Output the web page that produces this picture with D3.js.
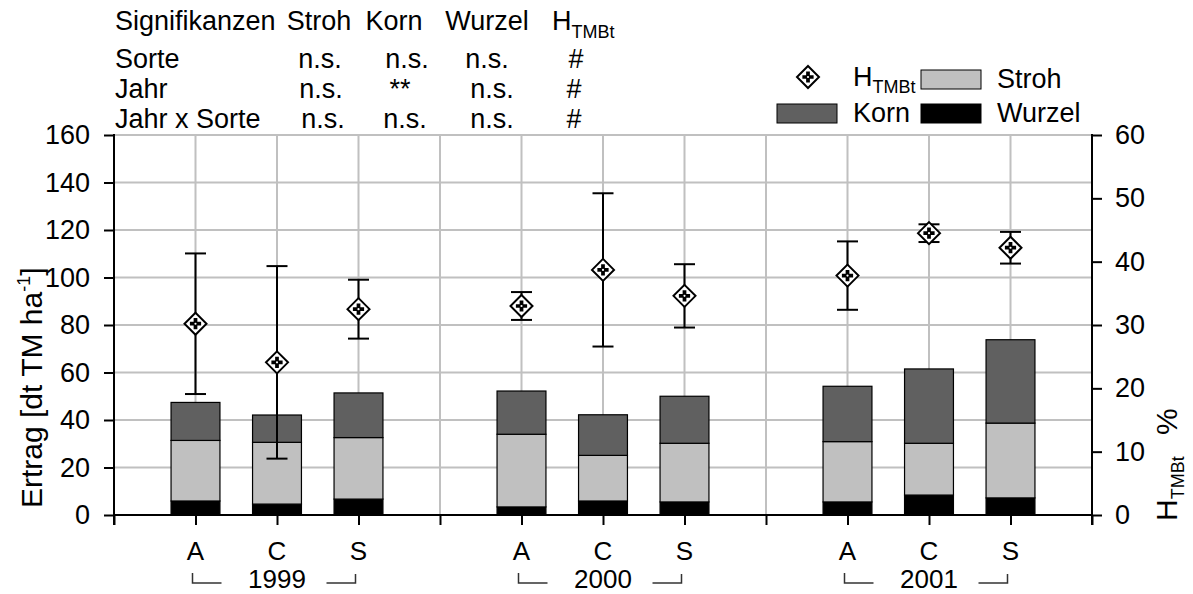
<!DOCTYPE html>
<html>
<head>
<meta charset="utf-8">
<script src="https://cdn.jsdelivr.net/npm/d3@7"></script>
<style>
  body { margin: 0; background: #fff; }
  svg { display: block; font-family: "Liberation Sans", Arial, sans-serif; }
</style>
</head>
<body>
<svg id="chart" width="1193" height="594"></svg>
<script>
// ---- data -------------------------------------------------------------
const years = ["1999", "2000", "2001"];
const varieties = ["A", "C", "S"];
// yield components [dt TM ha-1], order: 1999 A,C,S / 2000 A,C,S / 2001 A,C,S
const wurzel = [5.9, 4.6, 6.7, 3.4, 5.9, 5.5, 5.5, 8.4, 7.2];
const stroh  = [25.5, 26.0, 25.9, 30.6, 19.2, 24.7, 25.4, 21.8, 31.5];
const korn   = [16.0, 11.5, 18.8, 18.2, 17.1, 19.8, 23.3, 31.3, 35.1];
// harvest index H_TMBt [%] with error
const hMean = [30.2, 24.1, 32.5, 33.0, 38.7, 34.6, 37.8, 44.5, 42.2];
const hErr  = [11.1, 15.2, 4.65, 2.2, 12.1, 5.0, 5.4, 1.4, 2.5];

const leftTicks  = [0, 20, 40, 60, 80, 100, 120, 140, 160];
const rightTicks = [0, 10, 20, 30, 40, 50, 60];

// significance table
const sigHeader = ["Signifikanzen", "Stroh", "Korn", "Wurzel"];
const sigRowLabels = ["Sorte", "Jahr", "Jahr x Sorte"];
const sigValues = [
  ["n.s.", "n.s.", "n.s.", "#"],
  ["n.s.", "**",   "n.s.", "#"],
  ["n.s.", "n.s.", "n.s.", "#"]
];

// ---- layout -----------------------------------------------------------
const svg = d3.select("#chart");
const X0 = 114, X1 = 1092, Y0 = 515, Y1 = 135;
const x  = d3.scaleLinear().domain([0, 12]).range([X0, X1]);
const yL = d3.scaleLinear().domain([0, 160]).range([Y0, Y1]);
const yR = d3.scaleLinear().domain([0, 60]).range([Y0, Y1]);
const step = x(1) - x(0);
const barW = step * 0.6;

const keys = ["wurzel", "stroh", "korn"];
const fills = { wurzel: "#000000", stroh: "#c0c0c0", korn: "#606060" };

const records = years.flatMap((yr, g) => varieties.map((v, i) => {
  const k = g * 3 + i;
  return { year: yr, variety: v, pos: 1 + g * 4 + i,
           wurzel: wurzel[k], stroh: stroh[k], korn: korn[k],
           h: hMean[k], e: hErr[k] };
}));
const stacked = d3.stack().keys(keys)(records);

// ---- grid -------------------------------------------------------------
const grid = svg.append("g").attr("stroke", "#c0c0c0").attr("stroke-width", 2);
grid.selectAll("line.h").data(leftTicks.filter(t => t > 0)).join("line")
  .attr("x1", X0).attr("x2", X1)
  .attr("y1", d => yL(d)).attr("y2", d => yL(d));
grid.selectAll("line.v").data(d3.range(1, 12)).join("line")
  .attr("x1", d => x(d)).attr("x2", d => x(d))
  .attr("y1", Y1).attr("y2", Y0);

// ---- stacked bars -----------------------------------------------------
svg.append("g").selectAll("g").data(stacked).join("g")
  .attr("fill", d => fills[d.key])
  .selectAll("rect").data(d => d).join("rect")
  .attr("x", d => x(d.data.pos) - barW / 2)
  .attr("width", barW)
  .attr("y", d => yL(d[1]))
  .attr("height", d => yL(d[0]) - yL(d[1]))
  .attr("stroke", "#000").attr("stroke-width", 1.2);

// ---- axes -------------------------------------------------------------
const axisFont = 27;
const left = svg.append("g").attr("transform", `translate(${X0},0)`)
  .call(d3.axisLeft(yL).tickValues(leftTicks).tickSize(10).tickPadding(14).tickSizeOuter(0));
const right = svg.append("g").attr("transform", `translate(${X1},0)`)
  .call(d3.axisRight(yR).tickValues(rightTicks).tickSize(10).tickPadding(13).tickSizeOuter(0));
const bottom = svg.append("g").attr("transform", `translate(0,${Y0})`)
  .call(d3.axisBottom(x).tickValues(d3.range(0, 13)).tickSize(10).tickFormat("").tickSizeOuter(0));
[left, right, bottom].forEach(a => {
  a.select(".domain").remove();
  a.selectAll(".tick line").attr("stroke", "#000").attr("stroke-width", 2);
  a.selectAll(".tick text").attr("font-size", axisFont).attr("fill", "#000")
    .attr("font-family", "Liberation Sans, Arial, sans-serif");
});
svg.append("line").attr("x1", X0).attr("x2", X0).attr("y1", Y1 - 1).attr("y2", Y0 + 10)
  .attr("stroke", "#000").attr("stroke-width", 2);
svg.append("line").attr("x1", X1).attr("x2", X1).attr("y1", Y1 - 1).attr("y2", Y0 + 10)
  .attr("stroke", "#000").attr("stroke-width", 2);
svg.append("line").attr("x1", X0).attr("x2", X1).attr("y1", Y0).attr("y2", Y0)
  .attr("stroke", "#000").attr("stroke-width", 2);

// category and year labels with brackets
const catFont = 26;
svg.append("g").selectAll("text").data(records).join("text")
  .attr("x", d => x(d.pos)).attr("y", 560)
  .attr("text-anchor", "middle").attr("font-size", catFont)
  .text(d => d.variety);
const yearG = svg.append("g").selectAll("g").data(years).join("g");
yearG.append("text")
  .attr("x", (d, g) => x(2 + g * 4)).attr("y", 588)
  .attr("text-anchor", "middle").attr("font-size", catFont)
  .text(d => d);
yearG.append("path")
  .attr("fill", "none").attr("stroke", "#333").attr("stroke-width", 1.5)
  .attr("d", (d, g) => {
    const a = x(1 + g * 4) - 3, s = x(3 + g * 4) - 3;
    return `M${a},573V583H${a + 29}M${s - 29},583H${s}V574`;
  });

// ---- error bars and harvest index markers ---------------------------
const capW = 21;
const err = svg.append("g").attr("stroke", "#000").attr("stroke-width", 2);
err.selectAll("line.stem").data(records).join("line")
  .attr("x1", d => x(d.pos)).attr("x2", d => x(d.pos))
  .attr("y1", d => yR(d.h - d.e)).attr("y2", d => yR(d.h + d.e));
err.selectAll("line.top").data(records).join("line")
  .attr("x1", d => x(d.pos) - capW / 2).attr("x2", d => x(d.pos) + capW / 2)
  .attr("y1", d => yR(d.h + d.e)).attr("y2", d => yR(d.h + d.e));
err.selectAll("line.bot").data(records).join("line")
  .attr("x1", d => x(d.pos) - capW / 2).attr("x2", d => x(d.pos) + capW / 2)
  .attr("y1", d => yR(d.h - d.e)).attr("y2", d => yR(d.h - d.e));

function marker(sel) {
  sel.append("path").attr("d", "M0,-11L11,0L0,11L-11,0Z")
    .attr("fill", "#fff").attr("stroke", "#000").attr("stroke-width", 2);
  sel.append("path").attr("d", d3.symbol(d3.symbolCross, 70)()).attr("fill", "#000");
  sel.append("circle").attr("r", 1.1).attr("fill", "#fff");
}
svg.append("g").selectAll("g").data(records).join("g")
  .attr("transform", d => `translate(${x(d.pos)},${yR(d.h)})`)
  .call(marker);

// ---- axis titles ------------------------------------------------------
const lt = svg.append("text").attr("transform", "translate(42,508) rotate(-90)")
  .attr("font-size", 30);
lt.append("tspan").text("Ertrag [dt TM ha");
lt.append("tspan").attr("font-size", 18).attr("dy", -12).text("-1");
lt.append("tspan").attr("dy", 12).text("]");

const rt = svg.append("text").attr("transform", "translate(1177,521) rotate(-90)")
  .attr("font-size", 30);
rt.append("tspan").text("H");
rt.append("tspan").attr("font-size", 18).attr("dy", 7).text("TMBt");
rt.append("tspan").attr("x", 86).attr("dy", -7).text("%");

// ---- legend -----------------------------------------------------------
const fs = 27;
svg.append("g").attr("transform", "translate(808,77)").call(marker);
const lh = svg.append("text").attr("x", 853).attr("y", 86).attr("font-size", fs);
lh.append("tspan").text("H");
lh.append("tspan").attr("font-size", 18).attr("dy", 7).text("TMBt");
const legendItems = [
  { key: "stroh",  label: "Stroh",  sx: 921, tx: 997, y: 70 },
  { key: "korn",   label: "Korn",   sx: 777, tx: 853, y: 104 },
  { key: "wurzel", label: "Wurzel", sx: 921, tx: 997, y: 104 }
];
const lg = svg.append("g").selectAll("g").data(legendItems).join("g");
lg.append("rect").attr("x", d => d.sx).attr("y", d => d.y).attr("width", 60).attr("height", 19)
  .attr("fill", d => fills[d.key]).attr("stroke", "#000").attr("stroke-width", 1);
lg.append("text").attr("x", d => d.tx).attr("y", d => d.y + 18).attr("font-size", fs)
  .text(d => d.label);

// ---- significance table ----------------------------------------------
const headX = [115, 319, 394, 487];
const tbl = svg.append("g").attr("font-size", fs);
tbl.selectAll("text.h").data(sigHeader).join("text")
  .attr("x", (d, i) => headX[i]).attr("y", 30)
  .attr("text-anchor", (d, i) => i === 0 ? "start" : "middle")
  .text(d => d);
const th = tbl.append("text").attr("x", 552).attr("y", 30);
th.append("tspan").text("H");
th.append("tspan").attr("font-size", 18).attr("dy", 8).text("TMBt");

const rowY = [68, 98, 128];
const cellX = [[320, 407, 487, 576], [321, 400, 492, 574], [323, 405, 492, 574]];
tbl.selectAll("text.r").data(sigRowLabels).join("text")
  .attr("x", 115).attr("y", (d, i) => rowY[i]).text(d => d);
sigValues.forEach((row, r) => {
  tbl.append("g").selectAll("text").data(row).join("text")
    .attr("x", (d, c) => cellX[r][c]).attr("y", rowY[r])
    .attr("text-anchor", "middle").text(d => d);
});
</script>
</body>
</html>
